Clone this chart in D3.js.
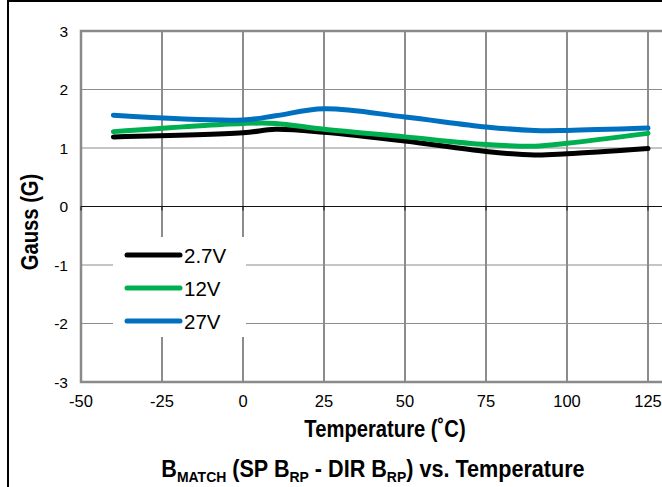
<!DOCTYPE html>
<html>
<head>
<meta charset="utf-8">
<script src="https://cdn.jsdelivr.net/npm/d3@7"></script>
<style>
  html, body { margin: 0; padding: 0; background: #fff; }
  svg { display: block; font-family: "Liberation Sans", Arial, sans-serif; }
</style>
</head>
<body>
<svg id="chart" width="662" height="487"></svg>
<script>
// ---- data ----
const temps   = [-40, 0, 10, 25, 50, 75, 90, 100, 125];
const v27     = [1.19, 1.26, 1.32, 1.27, 1.12, 0.94, 0.88, 0.90, 0.99];
const v12     = [1.28, 1.42, 1.42, 1.32, 1.19, 1.06, 1.03, 1.08, 1.25];
const v270    = [1.56, 1.48, 1.55, 1.67, 1.53, 1.36, 1.30, 1.30, 1.34];
const seriesNames = ["2.7V", "12V", "27V"];
const seriesColors = ["#000000", "#00b050", "#0070c0"];
const xTicks = [-50, -25, 0, 25, 50, 75, 100, 125];
const yTicks = [-3, -2, -1, 0, 1, 2, 3];

const seriesValues = [v27, v12, v270];

const svg = d3.select("#chart");
const W = 662, H = 487;

const x = d3.scaleLinear().domain([-50, 125]).range([81, 648]);
const y = d3.scaleLinear().domain([-3, 3]).range([382, 31]);

// outer frame (top and left)
svg.append("line").attr("x1", 7).attr("x2", W).attr("y1", 1).attr("y2", 1)
  .attr("stroke", "#000").attr("stroke-width", 2);
svg.append("line").attr("x1", 8).attr("x2", 8).attr("y1", 0).attr("y2", H)
  .attr("stroke", "#000").attr("stroke-width", 2);

const g = svg.append("g");

// horizontal gridlines
g.selectAll(".hgrid").data(yTicks.filter(d => d !== 0 && d !== -3 && d !== 3)).enter()
  .append("line")
  .attr("x1", x(-50)).attr("x2", W + 5)
  .attr("y1", d => y(d)).attr("y2", d => y(d))
  .attr("stroke", "#8c8c8c").attr("stroke-width", 1.2);

// vertical gridlines
g.selectAll(".vgrid").data(xTicks.filter(d => d !== -50)).enter()
  .append("line")
  .attr("x1", d => x(d)).attr("x2", d => x(d))
  .attr("y1", y(3)).attr("y2", y(-3))
  .attr("stroke", "#8c8c8c").attr("stroke-width", 2);

// plot border (top, left, bottom)
g.append("path")
  .attr("d", `M${W + 5},${y(3)} L${x(-50)},${y(3)} L${x(-50)},${y(-3)} L${W + 5},${y(-3)}`)
  .attr("fill", "none").attr("stroke", "#8a8a8a").attr("stroke-width", 2.5);

// zero axis with ticks
g.append("line").attr("x1", x(-50)).attr("x2", W + 5)
  .attr("y1", y(0)).attr("y2", y(0)).attr("stroke", "#111").attr("stroke-width", 1);
g.selectAll(".ztick").data(xTicks).enter().append("line")
  .attr("x1", d => x(d)).attr("x2", d => x(d))
  .attr("y1", y(0)).attr("y2", y(0) + 4)
  .attr("stroke", "#111").attr("stroke-width", 1);

// y tick labels
svg.selectAll(".ylab").data(yTicks).enter().append("text")
  .attr("x", 68).attr("y", d => y(d) + 5.5)
  .attr("text-anchor", "end").attr("font-size", 15.5).attr("fill", "#000")
  .text(d => d);

// x tick labels
svg.selectAll(".xlab").data(xTicks).enter().append("text")
  .attr("x", d => x(d)).attr("y", 407)
  .attr("text-anchor", "middle").attr("font-size", 16.5).attr("fill", "#000")
  .text(d => d);

// lines
const line = d3.line()
  .x((d, i) => x(temps[i]))
  .y(d => y(d))
  .curve(d3.curveCatmullRom.alpha(0.5));

seriesValues.forEach((vals, k) => {
  svg.append("path").datum(vals)
    .attr("d", line)
    .attr("fill", "none")
    .attr("stroke", seriesColors[k])
    .attr("stroke-width", 5)
    .attr("stroke-linecap", "round")
    .attr("stroke-linejoin", "round");
});

// legend
const lg = svg.append("g");
lg.append("rect").attr("x", 113).attr("y", 237).attr("width", 133).attr("height", 100)
  .attr("fill", "#fff");
seriesNames.forEach((name, k) => {
  const ly = 255 + k * 33;
  lg.append("line").attr("x1", 127).attr("x2", 180).attr("y1", ly).attr("y2", ly)
    .attr("stroke", seriesColors[k]).attr("stroke-width", 5).attr("stroke-linecap", "round");
  lg.append("text").attr("x", 184).attr("y", ly + 7.5)
    .attr("font-size", 20.5).attr("fill", "#000").text(name);
});

// axis titles
svg.append("g").attr("transform", "translate(38,222) rotate(-90) scale(0.88,1)")
  .append("text")
  .attr("x", 0).attr("y", 0)
  .attr("text-anchor", "middle").attr("font-size", 23).attr("font-weight", "bold")
  .text("Gauss (G)");

svg.append("g").attr("transform", "translate(385,437) scale(0.86,1)")
  .append("text")
  .attr("x", 0).attr("y", 0)
  .attr("text-anchor", "middle").attr("font-size", 23.5).attr("font-weight", "bold")
  .text("Temperature (˚C)");

// title with subscripts
const t = svg.append("g").attr("transform", "translate(373,477) scale(0.9,1)")
  .append("text")
  .attr("x", 0).attr("y", 0)
  .attr("text-anchor", "middle").attr("font-size", 24).attr("font-weight", "bold");
t.append("tspan").text("B");
t.append("tspan").attr("font-size", 15.5).attr("dy", 5).text("MATCH");
t.append("tspan").attr("dy", -5).text(" (SP B");
t.append("tspan").attr("font-size", 15.5).attr("dy", 5).text("RP");
t.append("tspan").attr("dy", -5).text(" - DIR B");
t.append("tspan").attr("font-size", 15.5).attr("dy", 5).text("RP");
t.append("tspan").attr("dy", -5).text(") vs. Temperature");
</script>
</body>
</html>
